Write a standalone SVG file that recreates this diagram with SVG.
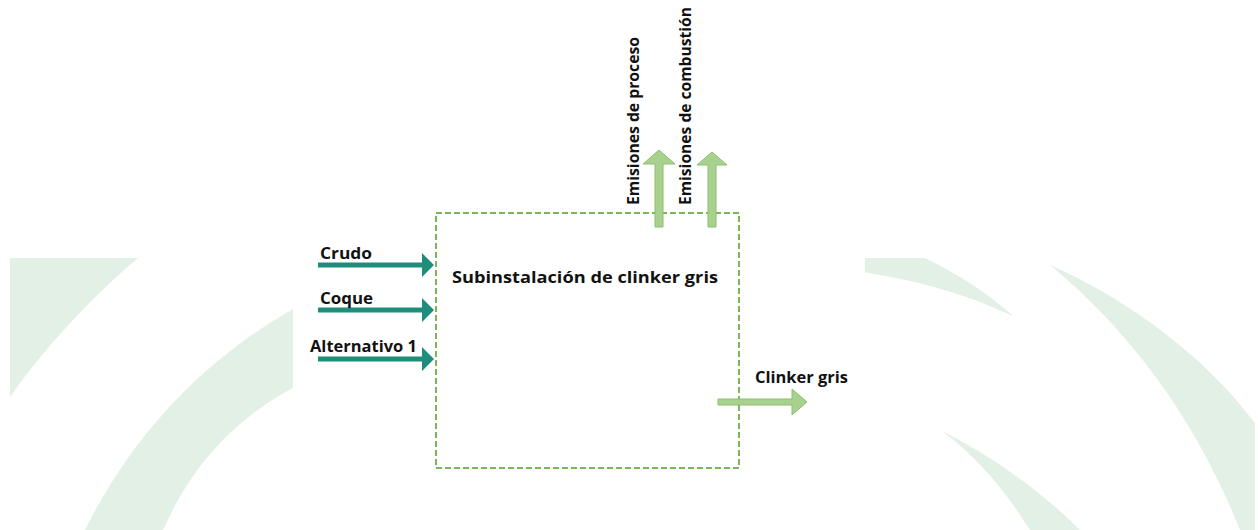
<svg xmlns="http://www.w3.org/2000/svg" width="1258" height="530" viewBox="0 0 1258 530">
  <style>
    .swoosh { fill: #e3f0e5; }
    .boundary { fill: none; stroke: #7db55a; stroke-width: 2; stroke-dasharray: 6 3; }
    .in-flow { fill: #1f8c7c; }
    .out-flow { fill: #a9d18e; stroke: #8cbf6c; stroke-width: 1; }
    .label { font-family: "Open Sans", "Liberation Sans", Arial, sans-serif; font-weight: bold; fill: #111; }
  </style>
  <defs>
    <clipPath id="bg-clip">
      <rect x="10" y="258" width="283" height="272"/>
      <rect x="865" y="258" width="390" height="272"/>
    </clipPath>
  </defs>

  <rect width="1258" height="530" fill="#ffffff"/>

  <!-- decorative background swooshes -->
  <g id="background" clip-path="url(#bg-clip)">
    <path class="swoosh" d="M 10 258 L 138 258 C 100 290, 50 340, 10 397 Z"/>
    <path class="swoosh" d="M 85 530 C 130 440, 200 360, 300 305 L 300 384 C 230 420, 190 470, 163 530 Z"/>
    <path class="swoosh" d="M 862 258 L 925 258 C 960 275, 990 295, 1013 316 C 970 296, 920 280, 862 272 Z"/>
    <path class="swoosh" d="M 1050 265 C 1130 300, 1210 360, 1260 430 L 1260 530 L 1240 530 C 1200 430, 1140 340, 1050 265 Z"/>
    <path class="swoosh" d="M 942 431 C 990 455, 1040 490, 1080 530 L 1030 530 C 1005 490, 975 455, 942 431 Z"/>
  </g>

  <!-- system boundary -->
  <g id="subinstalacion">
    <rect class="boundary" x="436" y="213" width="303" height="255"/>
    <text class="label" x="452" y="283" font-size="15.5" textLength="266" lengthAdjust="spacingAndGlyphs">Subinstalación de clinker gris</text>
  </g>

  <!-- material and emission flows -->
  <g id="connectors">
    <g id="flow-crudo">
      <path class="in-flow" d="M 318 262.5 H 422 V 253 L 434 265 L 422 277 V 267.5 H 318 Z"/>
      <text class="label" x="320" y="259" font-size="15.5" textLength="52" lengthAdjust="spacingAndGlyphs">Crudo</text>
    </g>
    <g id="flow-coque">
      <path class="in-flow" d="M 318 307.5 H 422 V 298 L 434 310 L 422 322 V 312.5 H 318 Z"/>
      <text class="label" x="320" y="304" font-size="15.5" textLength="53" lengthAdjust="spacingAndGlyphs">Coque</text>
    </g>
    <g id="flow-alternativo">
      <path class="in-flow" d="M 318 356.5 H 422 V 347 L 434 359 L 422 371 V 361.5 H 318 Z"/>
      <text class="label" x="310" y="352" font-size="15.5" textLength="107" lengthAdjust="spacingAndGlyphs">Alternativo 1</text>
    </g>
    <g id="flow-emisiones-proceso">
      <path class="out-flow" d="M 655 227 V 164 H 643 L 659 150 L 675 164 H 663 V 227 Z"/>
      <text class="label" transform="translate(639 205) rotate(-90)" font-size="16.5" textLength="168" lengthAdjust="spacingAndGlyphs">Emisiones de proceso</text>
    </g>
    <g id="flow-emisiones-combustion">
      <path class="out-flow" d="M 708 227 V 165 H 697 L 712 152 L 727 165 H 716 V 227 Z"/>
      <text class="label" transform="translate(691 205) rotate(-90)" font-size="16" textLength="198" lengthAdjust="spacingAndGlyphs">Emisiones de combustión</text>
    </g>
    <g id="flow-clinker">
      <path class="out-flow" d="M 718 399 H 792 V 389 L 807 402 L 792 415 V 405 H 718 Z"/>
      <text class="label" x="755" y="383" font-size="15.5" textLength="93" lengthAdjust="spacingAndGlyphs">Clinker gris</text>
    </g>
  </g>
</svg>
